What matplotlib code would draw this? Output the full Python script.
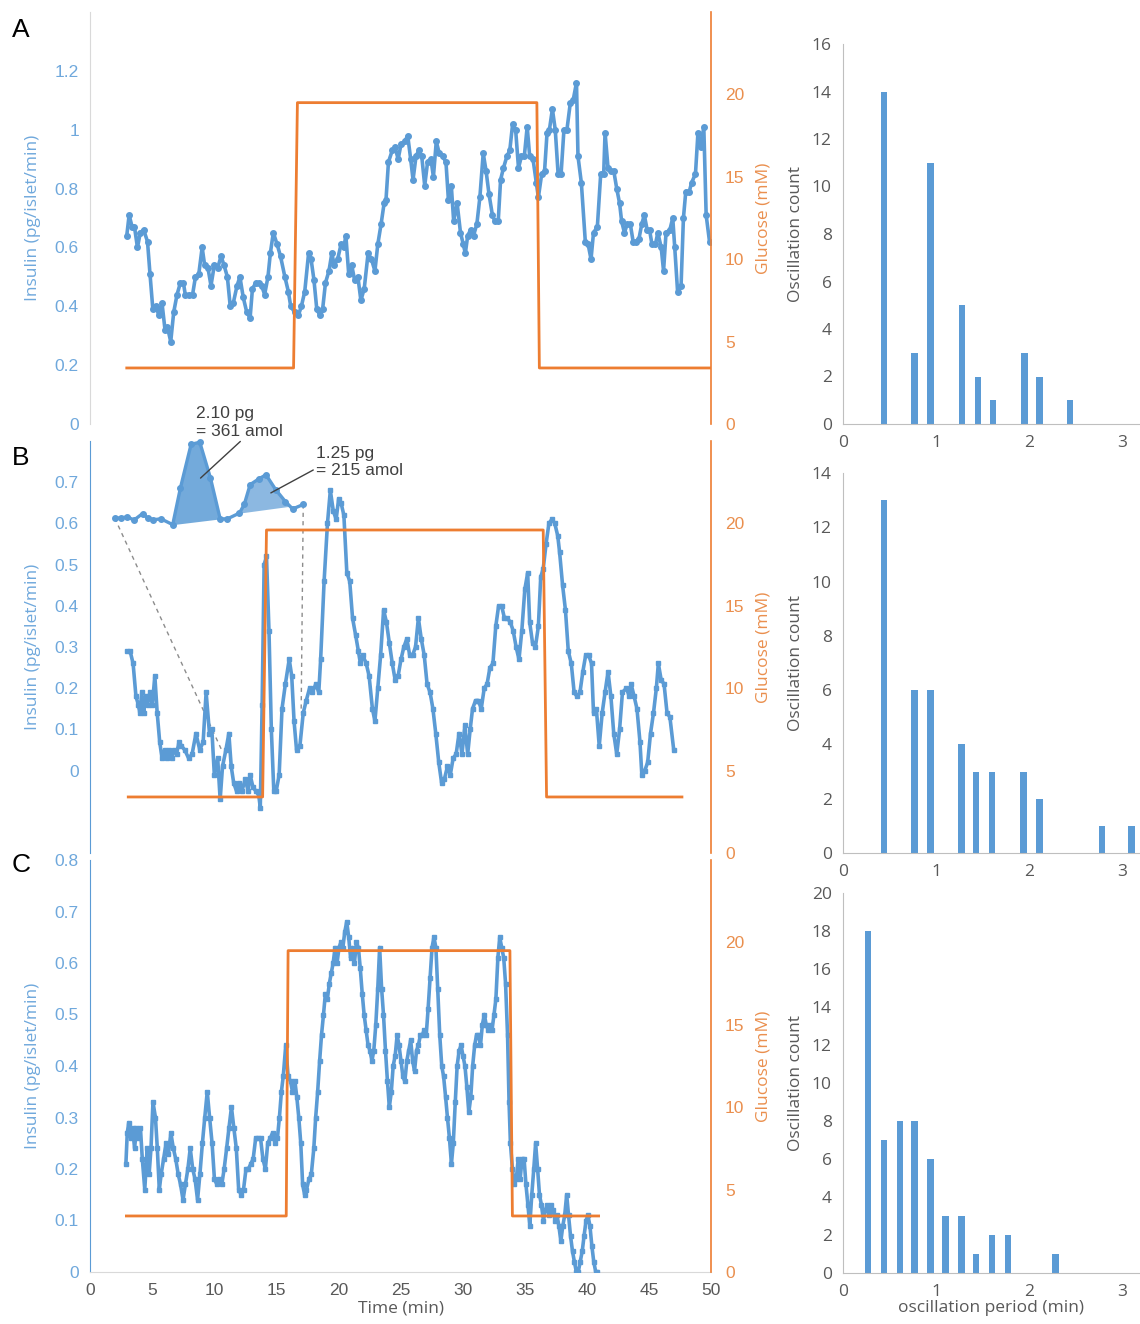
import numpy as np
import matplotlib
matplotlib.use("Agg")
import matplotlib.pyplot as plt
from matplotlib.ticker import FuncFormatter

BLUE = "#5b9bd5"
BLUE_TXT = "#6fa8dc"
ORANGE = "#ed7d31"
ORANGE_TXT = "#ea8f4e"
GRAY = "#595959"
NARROW = ["Liberation Sans Narrow", "Liberation Sans", "DejaVu Sans"]

# ---- panel A: insulin trace (pg/islet/min) and glucose steps (mM) ----
a_time = [2.96, 3.15, 3.39, 3.58, 3.82, 4.05, 4.32, 4.63, 4.83, 5.06,
          5.33, 5.53, 5.80, 6.04, 6.23, 6.50, 6.74, 7.01, 7.28, 7.52,
          7.67, 7.98, 8.26, 8.49, 8.76, 9.03, 9.23, 9.50, 9.74, 10.01,
          10.28, 10.55, 10.79, 11.06, 11.29, 11.53, 11.84, 12.07, 12.34, 12.62,
          12.89, 13.08, 13.36, 13.59, 13.82, 14.06, 14.33, 14.52, 14.76, 15.07,
          15.34, 15.69, 15.97, 16.16, 16.47, 16.78, 17.02, 17.29, 17.60, 17.80,
          18.03, 18.26, 18.50, 18.73, 18.96, 19.24, 19.47, 19.67, 19.94, 20.21,
          20.44, 20.60, 20.83, 21.07, 21.30, 21.57, 21.81, 22.08, 22.39, 22.66,
          22.94, 23.17, 23.44, 23.68, 23.83, 24.03, 24.34, 24.57, 24.81, 25.04,
          25.35, 25.58, 25.82, 26.01, 26.25, 26.48, 26.71, 26.95, 27.18, 27.45,
          27.65, 27.88, 28.12, 28.39, 28.66, 28.86, 29.09, 29.28, 29.56, 29.83,
          30.06, 30.22, 30.41, 30.65, 30.88, 31.15, 31.39, 31.66, 31.89, 32.13,
          32.40, 32.59, 32.87, 33.06, 33.29, 33.57, 33.80, 34.03, 34.27, 34.50,
          34.74, 34.97, 35.20, 35.40, 35.67, 35.94, 36.10, 36.37, 36.60, 36.80,
          36.99, 37.23, 37.46, 37.69, 37.93, 38.16, 38.40, 38.67, 38.90, 39.17,
          39.29, 39.56, 39.88, 40.11, 40.34, 40.54, 40.85, 41.12, 41.36, 41.47,
          41.71, 41.94, 42.17, 42.41, 42.64, 42.80, 43.03, 43.26, 43.50, 43.73,
          43.96, 44.20, 44.43, 44.63, 44.86, 45.05, 45.25, 45.52, 45.72, 45.99,
          46.18, 46.38, 46.69, 46.92, 47.08, 47.31, 47.59, 47.78, 47.97, 48.25,
          48.44, 48.75, 48.95, 49.18, 49.42, 49.61, 49.88]
a_insulin = [0.64, 0.71, 0.67, 0.67, 0.60, 0.65, 0.66, 0.62, 0.51, 0.39,
             0.40, 0.37, 0.41, 0.32, 0.33, 0.28, 0.38, 0.44, 0.48, 0.48,
             0.44, 0.44, 0.44, 0.50, 0.51, 0.60, 0.54, 0.53, 0.47, 0.54,
             0.53, 0.57, 0.54, 0.50, 0.40, 0.41, 0.47, 0.50, 0.43, 0.38,
             0.36, 0.46, 0.48, 0.48, 0.47, 0.44, 0.50, 0.58, 0.65, 0.61,
             0.57, 0.50, 0.45, 0.40, 0.38, 0.37, 0.40, 0.45, 0.58, 0.56,
             0.49, 0.39, 0.37, 0.39, 0.48, 0.52, 0.58, 0.54, 0.56, 0.61,
             0.60, 0.64, 0.51, 0.54, 0.49, 0.50, 0.42, 0.46, 0.58, 0.56,
             0.52, 0.61, 0.68, 0.75, 0.76, 0.89, 0.93, 0.94, 0.90, 0.95,
             0.96, 0.98, 0.90, 0.83, 0.91, 0.93, 0.91, 0.81, 0.89, 0.90,
             0.84, 0.96, 0.92, 0.91, 0.89, 0.76, 0.81, 0.69, 0.75, 0.65,
             0.61, 0.58, 0.64, 0.66, 0.64, 0.68, 0.77, 0.92, 0.86, 0.78,
             0.71, 0.69, 0.69, 0.83, 0.87, 0.91, 0.93, 1.02, 1.00, 0.87,
             0.91, 0.91, 1.01, 0.91, 0.90, 0.82, 0.77, 0.85, 0.86, 0.99,
             1.00, 1.07, 1.00, 0.85, 0.85, 1.00, 1.00, 1.09, 1.10, 1.16,
             0.91, 0.82, 0.62, 0.61, 0.56, 0.65, 0.67, 0.85, 0.85, 0.99,
             0.87, 0.86, 0.86, 0.80, 0.75, 0.69, 0.65, 0.68, 0.68, 0.62,
             0.62, 0.63, 0.68, 0.71, 0.66, 0.66, 0.61, 0.61, 0.65, 0.60,
             0.52, 0.65, 0.66, 0.70, 0.60, 0.45, 0.47, 0.70, 0.79, 0.79,
             0.82, 0.85, 0.99, 0.94, 1.01, 0.71, 0.62]
a_gluc_time = [2.96, 16.39, 16.70, 35.98, 36.18, 50.0]
a_glucose = [3.4, 3.4, 19.5, 19.5, 3.4, 3.4]

# ---- panel B ----
b_time = [3.00, 3.23, 3.47, 3.70, 3.89, 4.01, 4.17, 4.32, 4.48, 4.63,
          4.83, 5.02, 5.22, 5.41, 5.61, 5.80, 6.00, 6.19, 6.39, 6.58,
          6.78, 6.97, 7.17, 7.36, 7.63, 7.94, 8.22, 8.53, 8.84, 9.11,
          9.35, 9.62, 9.81, 10.01, 10.28, 10.48, 10.67, 10.94, 11.18, 11.37,
          11.57, 11.80, 12.03, 12.23, 12.50, 12.73, 12.89, 13.12, 13.36, 13.59,
          13.71, 13.86, 14.02, 14.21, 14.41, 14.60, 14.80, 14.99, 15.23, 15.46,
          15.73, 16.04, 16.24, 16.43, 16.63, 16.90, 17.17, 17.41, 17.68, 17.91,
          18.18, 18.42, 18.57, 18.85, 19.12, 19.35, 19.59, 19.82, 20.02, 20.21,
          20.44, 20.68, 20.91, 21.14, 21.38, 21.61, 21.77, 21.96, 22.24, 22.47,
          22.74, 22.94, 23.17, 23.40, 23.64, 23.87, 24.10, 24.34, 24.57, 24.81,
          25.04, 25.27, 25.51, 25.74, 25.97, 26.21, 26.44, 26.67, 26.91, 27.14,
          27.38, 27.61, 27.84, 28.08, 28.31, 28.54, 28.78, 29.01, 29.24, 29.48,
          29.71, 29.95, 30.18, 30.41, 30.61, 30.80, 31.04, 31.27, 31.50, 31.74,
          31.97, 32.20, 32.44, 32.67, 32.90, 33.14, 33.37, 33.61, 33.84, 34.07,
          34.31, 34.54, 34.77, 35.01, 35.24, 35.40, 35.63, 35.86, 36.10, 36.29,
          36.49, 36.72, 36.95, 37.19, 37.42, 37.66, 37.81, 38.05, 38.28, 38.51,
          38.75, 38.98, 39.21, 39.45, 39.68, 39.91, 40.15, 40.38, 40.54, 40.77,
          41.00, 41.24, 41.47, 41.71, 41.94, 42.17, 42.41, 42.64, 42.87, 43.19,
          43.42, 43.57, 43.81, 44.04, 44.28, 44.43, 44.67, 44.90, 45.13, 45.37,
          45.60, 45.76, 45.99, 46.22, 46.46, 46.69, 47.00]
b_insulin = [0.29, 0.29, 0.26, 0.18, 0.16, 0.14, 0.19, 0.14, 0.18, 0.16,
             0.19, 0.16, 0.23, 0.14, 0.07, 0.03, 0.05, 0.03, 0.05, 0.03,
             0.05, 0.04, 0.07, 0.06, 0.05, 0.03, 0.04, 0.09, 0.05, 0.07,
             0.19, 0.09, 0.10, -0.01, 0.03, -0.07, 0.01, 0.05, 0.09, 0.01,
             -0.03, -0.05, -0.03, -0.05, -0.02, -0.05, -0.01, -0.04, -0.05, -0.06,
             -0.09, 0.16, 0.50, 0.52, 0.34, 0.10, -0.05, -0.05, -0.01, 0.15,
             0.21, 0.27, 0.23, 0.12, 0.05, 0.06, 0.14, 0.17, 0.20, 0.19,
             0.21, 0.19, 0.27, 0.46, 0.60, 0.68, 0.63, 0.61, 0.66, 0.65,
             0.62, 0.48, 0.46, 0.37, 0.33, 0.29, 0.26, 0.28, 0.26, 0.23,
             0.15, 0.12, 0.20, 0.28, 0.39, 0.36, 0.31, 0.26, 0.22, 0.23,
             0.27, 0.30, 0.32, 0.28, 0.28, 0.30, 0.37, 0.32, 0.28, 0.21,
             0.19, 0.15, 0.09, 0.02, -0.03, -0.02, 0.01, -0.01, 0.03, 0.04,
             0.09, 0.04, 0.11, 0.04, 0.10, 0.15, 0.17, 0.17, 0.15, 0.20,
             0.21, 0.25, 0.26, 0.35, 0.40, 0.40, 0.37, 0.37, 0.36, 0.34,
             0.30, 0.27, 0.34, 0.44, 0.48, 0.36, 0.31, 0.30, 0.35, 0.47,
             0.49, 0.55, 0.60, 0.61, 0.60, 0.57, 0.53, 0.45, 0.39, 0.29,
             0.26, 0.19, 0.18, 0.19, 0.24, 0.28, 0.28, 0.26, 0.14, 0.15,
             0.06, 0.14, 0.19, 0.24, 0.18, 0.09, 0.04, 0.10, 0.19, 0.20,
             0.18, 0.21, 0.18, 0.15, 0.07, -0.01, 0.00, 0.02, 0.09, 0.14,
             0.20, 0.26, 0.22, 0.21, 0.14, 0.13, 0.05]
b_gluc_time = [3.08, 13.90, 14.21, 36.49, 36.76, 47.66]
b_glucose = [3.4, 3.4, 19.6, 19.6, 3.4, 3.4]

# zoomed-in inset trace with the two integrated pulses
inset_time = [1.99, 2.49, 3.00, 3.54, 4.24, 4.63, 5.10, 5.72, 6.66, 7.28,
              8.14, 8.84, 9.70, 10.48, 11.06, 12.03, 12.42, 12.89, 13.59, 14.17,
              14.95, 15.73, 16.32, 17.17]
inset_insulin = [0.613, 0.613, 0.616, 0.608, 0.624, 0.613, 0.609, 0.611, 0.597, 0.686,
                 0.792, 0.797, 0.710, 0.611, 0.611, 0.625, 0.646, 0.694, 0.708, 0.718,
                 0.682, 0.653, 0.635, 0.646]
pulse_1 = (8, 13)   # index range of first shaded pulse
pulse_2 = (15, 23)

# ---- panel C ----
c_time = [2.89, 3.00, 3.12, 3.28, 3.43, 3.59, 3.74, 3.90, 4.06, 4.21,
          4.41, 4.60, 4.76, 4.91, 5.07, 5.27, 5.42, 5.58, 5.73, 5.93,
          6.12, 6.32, 6.51, 6.71, 6.90, 7.10, 7.29, 7.49, 7.68, 7.88,
          8.07, 8.27, 8.46, 8.66, 8.85, 9.05, 9.24, 9.44, 9.63, 9.83,
          10.02, 10.22, 10.41, 10.61, 10.80, 11.00, 11.19, 11.39, 11.58, 11.78,
          11.97, 12.17, 12.36, 12.56, 12.75, 12.95, 13.14, 13.34, 13.53, 13.73,
          13.92, 14.12, 14.31, 14.51, 14.70, 14.90, 15.09, 15.25, 15.41, 15.56,
          15.76, 15.95, 16.15, 16.30, 16.50, 16.65, 16.81, 16.97, 17.12, 17.28,
          17.43, 17.63, 17.82, 18.02, 18.17, 18.33, 18.49, 18.64, 18.80, 18.95,
          19.11, 19.27, 19.42, 19.58, 19.73, 19.89, 20.05, 20.20, 20.36, 20.51,
          20.67, 20.83, 20.98, 21.14, 21.29, 21.45, 21.61, 21.76, 21.92, 22.07,
          22.23, 22.39, 22.54, 22.70, 22.85, 23.01, 23.17, 23.32, 23.48, 23.63,
          23.79, 23.95, 24.10, 24.26, 24.41, 24.57, 24.73, 24.88, 25.04, 25.19,
          25.35, 25.51, 25.66, 25.82, 25.98, 26.13, 26.29, 26.44, 26.60, 26.76,
          26.91, 27.07, 27.22, 27.38, 27.54, 27.69, 27.85, 28.00, 28.16, 28.32,
          28.47, 28.63, 28.78, 28.94, 29.10, 29.25, 29.41, 29.56, 29.72, 29.88,
          30.03, 30.19, 30.34, 30.50, 30.66, 30.81, 30.97, 31.12, 31.28, 31.44,
          31.59, 31.75, 31.90, 32.06, 32.22, 32.37, 32.53, 32.68, 32.84, 32.99,
          33.15, 33.31, 33.46, 33.62, 33.74, 33.85, 34.01, 34.17, 34.32, 34.48,
          34.63, 34.79, 34.95, 35.10, 35.26, 35.41, 35.57, 35.73, 35.88, 36.04,
          36.19, 36.35, 36.51, 36.66, 36.82, 36.97, 37.13, 37.29, 37.44, 37.60,
          37.75, 37.91, 38.07, 38.22, 38.38, 38.53, 38.69, 38.85, 39.00, 39.16,
          39.31, 39.47, 39.63, 39.78, 39.94, 40.09, 40.25, 40.41, 40.56, 40.72,
          40.83]
c_insulin = [0.21, 0.27, 0.29, 0.26, 0.28, 0.24, 0.28, 0.26, 0.28, 0.22,
             0.16, 0.24, 0.19, 0.24, 0.33, 0.30, 0.24, 0.16, 0.19, 0.22,
             0.25, 0.23, 0.27, 0.24, 0.22, 0.19, 0.17, 0.14, 0.17, 0.20,
             0.24, 0.20, 0.18, 0.14, 0.19, 0.25, 0.30, 0.35, 0.30, 0.25,
             0.18, 0.17, 0.18, 0.17, 0.20, 0.24, 0.28, 0.32, 0.28, 0.24,
             0.16, 0.15, 0.16, 0.20, 0.20, 0.21, 0.22, 0.26, 0.26, 0.26,
             0.22, 0.20, 0.25, 0.26, 0.27, 0.25, 0.26, 0.30, 0.35, 0.38,
             0.44, 0.38, 0.37, 0.35, 0.37, 0.34, 0.30, 0.25, 0.17, 0.15,
             0.16, 0.18, 0.19, 0.24, 0.30, 0.35, 0.41, 0.46, 0.50, 0.54,
             0.53, 0.56, 0.58, 0.60, 0.63, 0.60, 0.63, 0.64, 0.63, 0.66,
             0.68, 0.65, 0.61, 0.63, 0.60, 0.64, 0.63, 0.59, 0.54, 0.50,
             0.47, 0.44, 0.43, 0.41, 0.43, 0.48, 0.55, 0.63, 0.55, 0.50,
             0.43, 0.37, 0.32, 0.35, 0.40, 0.42, 0.46, 0.44, 0.41, 0.38,
             0.37, 0.41, 0.43, 0.45, 0.41, 0.39, 0.43, 0.44, 0.46, 0.46,
             0.47, 0.46, 0.51, 0.57, 0.63, 0.65, 0.63, 0.55, 0.46, 0.40,
             0.38, 0.34, 0.30, 0.26, 0.21, 0.25, 0.33, 0.40, 0.43, 0.44,
             0.42, 0.40, 0.36, 0.31, 0.34, 0.40, 0.44, 0.46, 0.46, 0.44,
             0.48, 0.50, 0.48, 0.47, 0.48, 0.47, 0.50, 0.53, 0.61, 0.65,
             0.63, 0.61, 0.56, 0.46, 0.33, 0.25, 0.20, 0.17, 0.18, 0.22,
             0.18, 0.22, 0.22, 0.17, 0.13, 0.09, 0.15, 0.20, 0.25, 0.20,
             0.15, 0.13, 0.10, 0.12, 0.13, 0.11, 0.13, 0.12, 0.10, 0.11,
             0.09, 0.06, 0.09, 0.11, 0.15, 0.11, 0.07, 0.04, 0.02, 0.00,
             0.00, 0.02, 0.04, 0.07, 0.10, 0.11, 0.09, 0.05, 0.02, 0.00,
             0.00]
c_gluc_time = [2.93, 15.80, 15.95, 33.81, 34.01, 40.95]
c_glucose = [3.4, 3.4, 19.5, 19.5, 3.4, 3.4]

# ---- oscillation period histograms ----
a_period = [0.44, 0.77, 0.94, 1.28, 1.45, 1.61, 1.95, 2.11, 2.44]
a_count = [14, 3, 11, 5, 2, 1, 3, 2, 1]
b_period = [0.44, 0.77, 0.94, 1.27, 1.43, 1.60, 1.94, 2.11, 2.78, 3.10]
b_count = [13, 6, 6, 4, 3, 3, 3, 2, 1, 1]
c_period = [0.27, 0.44, 0.61, 0.77, 0.94, 1.10, 1.27, 1.43, 1.60, 1.77, 2.28]
c_count = [18, 7, 8, 8, 6, 3, 3, 1, 2, 2, 1]

assert len(a_time) == len(a_insulin)
assert len(b_time) == len(b_insulin)
assert len(c_time) == len(c_insulin)

W, H = 1140, 1324


def box(x0, y0, x1, y1):
    # pixel box -> figure fraction
    return [x0 / W, 1 - y1 / H, (x1 - x0) / W, (y1 - y0) / H]


def draw_trace(ax, t, ins, gt, gv, ylim, yticks, marker, ms, left_color, show_x=False):
    ax.plot(t, ins, color=BLUE, lw=2.6, marker=marker, ms=ms, zorder=3)
    ax.set_xlim(0, 50)
    ax.set_ylim(*ylim)
    ax.set_yticks(yticks)
    ax.yaxis.set_major_formatter(FuncFormatter(lambda v, p: f"{v:g}"))
    ax.tick_params(axis="y", length=0, labelcolor=BLUE_TXT, labelsize=12.5, pad=8)
    for lab in ax.get_yticklabels():
        lab.set_family(NARROW)
    ax.set_ylabel("Insulin (pg/islet/min)", color=BLUE_TXT, fontsize=12.5, labelpad=10)
    for s in ["top", "right"]:
        ax.spines[s].set_visible(False)
    ax.spines["left"].set_color(left_color)
    if show_x:
        ax.set_xticks(range(0, 51, 5))
        ax.tick_params(axis="x", length=0, labelcolor=GRAY, labelsize=12.5, pad=8)
        for lab in ax.get_xticklabels():
            lab.set_family(NARROW)
        ax.spines["bottom"].set_color("#d9d9d9")
        ax.set_xlabel("Time (min)", color=GRAY, fontsize=12.5, labelpad=2)
    else:
        ax.set_xticks([])
        ax.spines["bottom"].set_visible(False)

    ax2 = ax.twinx()
    ax2.plot(gt, gv, color=ORANGE, lw=2)
    ax2.set_ylim(0, 25)
    ax2.set_yticks([0, 5, 10, 15, 20])
    ax2.tick_params(axis="y", length=0, labelcolor=ORANGE_TXT, labelsize=12.5, pad=10)
    for lab in ax2.get_yticklabels():
        lab.set_family(NARROW)
    ax2.set_ylabel("Glucose (mM)", color=ORANGE_TXT, fontsize=12.5, labelpad=8)
    for s in ["top", "left", "bottom"]:
        ax2.spines[s].set_visible(False)
    ax2.spines["right"].set_color(ORANGE)
    ax2.spines["right"].set_linewidth(1.2)
    return ax2


def draw_hist(ax, period, count, ymax, xlabel=None):
    ax.bar(period, count, width=0.07, color=BLUE)
    ax.set_xlim(0, 3.19)
    ax.set_ylim(0, ymax)
    ax.set_yticks(range(0, ymax + 1, 2))
    ax.set_xticks([0, 1, 2, 3])
    for s in ["top", "right"]:
        ax.spines[s].set_visible(False)
    for s in ["left", "bottom"]:
        ax.spines[s].set_color("#bfbfbf")
    ax.tick_params(length=0, labelcolor=GRAY, labelsize=12.5, pad=8)
    ax.set_ylabel("Oscillation count", color=GRAY, fontsize=12.5, labelpad=6)
    if xlabel:
        ax.set_xlabel(xlabel, color=GRAY, fontsize=12.5, labelpad=0)


plt.rcParams["font.family"] = ["Open Sans", "DejaVu Sans"]
fig = plt.figure(figsize=(W / 100, H / 100), dpi=100)

axA = fig.add_axes(box(90, 12, 711, 424))
axB = fig.add_axes(box(90, 441, 711, 853))
axC = fig.add_axes(box(90, 860, 711, 1272))
draw_trace(axA, a_time, a_insulin, a_gluc_time, a_glucose, (0, 1.4),
           [0, 0.2, 0.4, 0.6, 0.8, 1.0, 1.2], "o", 4, "#d9d9d9")
draw_trace(axB, b_time, b_insulin, b_gluc_time, b_glucose, (-0.2, 0.8),
           [0, 0.1, 0.2, 0.3, 0.4, 0.5, 0.6, 0.7], "s", 3.5, BLUE)
draw_trace(axC, c_time, c_insulin, c_gluc_time, c_glucose, (0, 0.8),
           [0, 0.1, 0.2, 0.3, 0.4, 0.5, 0.6, 0.7, 0.8], "s", 3.5, BLUE, show_x=True)

# inset in panel B: magnified section with shaded pulses
it = np.array(inset_time)
iv = np.array(inset_insulin)
for (i0, i1), alpha in [(pulse_1, 0.85), (pulse_2, 0.7)]:
    seg_t = it[i0:i1 + 1]
    base = np.interp(seg_t, [it[i0], it[i1]], [iv[i0], iv[i1]])
    axB.fill_between(seg_t, base, iv[i0:i1 + 1], color=BLUE, alpha=alpha, lw=0, zorder=4)
axB.plot(it, iv, color=BLUE, lw=2.4, marker="o", ms=4, zorder=5, clip_on=False)
axB.plot([it[0], 10.6], [iv[0], 0.05], ls=(0, (3, 3)), color="#8c8c8c", lw=1, zorder=2)
axB.plot([it[-1], 17.0], [iv[-1], 0.14], ls=(0, (3, 3)), color="#8c8c8c", lw=1, zorder=2)

axB.annotate("2.10 pg\n= 361 amol", xy=(8.9, 0.71), xytext=(8.5, 0.845),
             fontsize=12.5, color="#404040", va="center", ha="left",
             family=NARROW, annotation_clip=False, zorder=6,
             arrowprops=dict(arrowstyle="-", color="#404040", lw=1,
                             shrinkA=0, shrinkB=0, relpos=(0.55, 0.0)))
axB.annotate("1.25 pg\n= 215 amol", xy=(14.56, 0.674), xytext=(18.2, 0.749),
             fontsize=12.5, color="#404040", va="center", ha="left",
             family=NARROW, annotation_clip=False, zorder=6,
             arrowprops=dict(arrowstyle="-", color="#404040", lw=1,
                             shrinkA=0, shrinkB=0, relpos=(0.0, 0.3)))

hA = fig.add_axes(box(843, 44, 1140, 424))
hB = fig.add_axes(box(843, 473, 1140, 853))
hC = fig.add_axes(box(843, 893, 1140, 1273))
draw_hist(hA, a_period, a_count, 16)
draw_hist(hB, b_period, b_count, 14)
draw_hist(hC, c_period, c_count, 20, xlabel="oscillation period (min)")

for letter, ypix in [("A", 30), ("B", 458), ("C", 865)]:
    fig.text(12 / W, 1 - ypix / H, letter, fontsize=19, va="center", ha="left",
             family=NARROW, color="black")

fig.savefig("out.png", dpi=100)
